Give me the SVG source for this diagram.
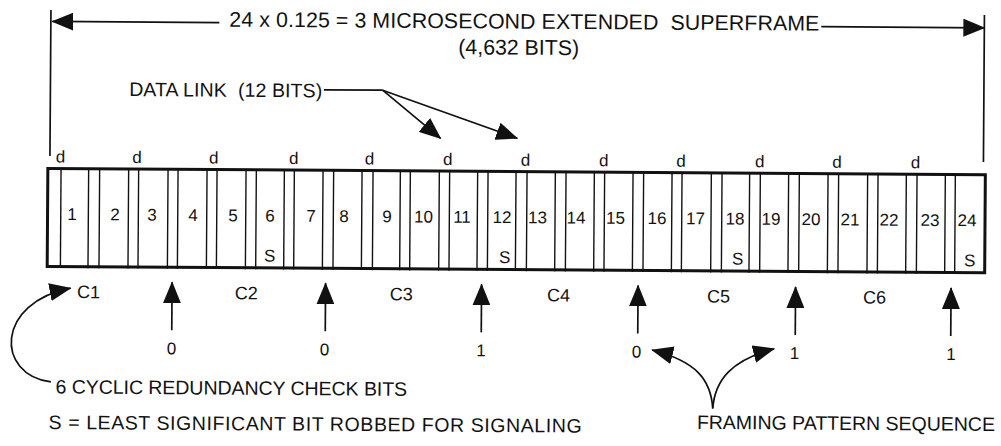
<svg xmlns="http://www.w3.org/2000/svg" width="1001" height="446" viewBox="0 0 1001 446">
<style>
text{font-family:"Liberation Sans",Arial,Helvetica,sans-serif;fill:#111}
.big{font-size:21.3px}
.lab{font-size:19.5px}
.num{font-size:17px;text-anchor:middle}
.c{font-size:18px;text-anchor:middle}
.ln{stroke:#111;stroke-width:1.4;fill:none}
.cn{stroke:#111;stroke-width:1.7;fill:none}
.ar{stroke:#111;stroke-width:1.7;fill:none;marker-end:url(#ah)}
</style>
<defs>
<marker id="ah" markerUnits="userSpaceOnUse" markerWidth="22" markerHeight="18" viewBox="0 0 22 18" refX="21" refY="9" orient="auto">
<path d="M0,0 L22,9 L0,18 z" fill="#111"/>
</marker>
</defs>
<rect width="1001" height="446" fill="#fff"/>
<g transform="rotate(0.39 500 223)">
<g id="title">
<text class="big" x="228" y="28.5" textLength="590" xml:space="preserve">24 x 0.125 = 3 MICROSECOND EXTENDED  SUPERFRAME</text>
<text class="big" x="517.5" y="54.5" text-anchor="middle">(4,632 BITS)</text>
</g>
<g id="datalink-label">
<text class="lab" x="128.3" y="98.6" textLength="193" xml:space="preserve">DATA LINK  (12 BITS)</text>
</g>
<g id="dbits">
<text class="num" x="60" y="165.5">d</text>
<text class="num" x="136.7" y="165.5">d</text>
<text class="num" x="213.3" y="165.5">d</text>
<text class="num" x="293.3" y="165.5">d</text>
<text class="num" x="369" y="165.5">d</text>
<text class="num" x="447.3" y="165.5">d</text>
<text class="num" x="525" y="165.5">d</text>
<text class="num" x="603.3" y="165.5">d</text>
<text class="num" x="680.5" y="165.5">d</text>
<text class="num" x="759.3" y="165.5">d</text>
<text class="num" x="836.7" y="165.5">d</text>
<text class="num" x="915" y="165.5">d</text>
</g>
<g id="superframe">
<rect x="47.5" y="171.5" width="937.5" height="98" fill="none" stroke="#111" stroke-width="3"/>
<g id="frame-1"><path class="ln" d="M60.7 171.5V271"/><text class="num" x="72" y="223">1</text></g>
<g id="frame-2"><path class="ln" d="M88.3 171.5V271M99.3 171.5V271"/><text class="num" x="115" y="223">2</text></g>
<g id="frame-3"><path class="ln" d="M128.3 171.5V271M138.3 171.5V271"/><text class="num" x="152" y="223">3</text></g>
<g id="frame-4"><path class="ln" d="M167.7 171.5V271M177.7 171.5V271"/><text class="num" x="193" y="223">4</text></g>
<g id="frame-5"><path class="ln" d="M206.7 171.5V271M216.7 171.5V271"/><text class="num" x="233" y="223">5</text></g>
<g id="frame-6"><path class="ln" d="M245.7 171.5V271M256 171.5V271"/><text class="num" x="270" y="223">6</text><text class="num" x="270" y="263">S</text></g>
<g id="frame-7"><path class="ln" d="M284 171.5V271M294 171.5V271"/><text class="num" x="311" y="223">7</text></g>
<g id="frame-8"><path class="ln" d="M322.7 171.5V271M333.3 171.5V271"/><text class="num" x="344" y="223">8</text></g>
<g id="frame-9"><path class="ln" d="M361.7 171.5V271M372.7 171.5V271"/><text class="num" x="387" y="223">9</text></g>
<g id="frame-10"><path class="ln" d="M400 171.5V271M410 171.5V271"/><text class="num" x="423.5" y="223">10</text></g>
<g id="frame-11"><path class="ln" d="M439 171.5V271M449.3 171.5V271"/><text class="num" x="462" y="223">11</text></g>
<g id="frame-12"><path class="ln" d="M477.3 171.5V271M487.7 171.5V271"/><text class="num" x="502" y="223">12</text><text class="num" x="505" y="263">S</text></g>
<g id="frame-13"><path class="ln" d="M515.7 171.5V271M526.7 171.5V271"/><text class="num" x="537.5" y="223">13</text></g>
<g id="frame-14"><path class="ln" d="M555 171.5V271M565.7 171.5V271"/><text class="num" x="576" y="223">14</text></g>
<g id="frame-15"><path class="ln" d="M594 171.5V271M604.3 171.5V271"/><text class="num" x="615.5" y="223">15</text></g>
<g id="frame-16"><path class="ln" d="M632.7 171.5V271M643.3 171.5V271"/><text class="num" x="657" y="223">16</text></g>
<g id="frame-17"><path class="ln" d="M671.7 171.5V271M681.7 171.5V271"/><text class="num" x="695.5" y="223">17</text></g>
<g id="frame-18"><path class="ln" d="M711 171.5V271M721.7 171.5V271"/><text class="num" x="735" y="223">18</text><text class="num" x="738" y="263">S</text></g>
<g id="frame-19"><path class="ln" d="M749.3 171.5V271M760 171.5V271"/><text class="num" x="771" y="223">19</text></g>
<g id="frame-20"><path class="ln" d="M788.3 171.5V271M799 171.5V271"/><text class="num" x="811" y="223">20</text></g>
<g id="frame-21"><path class="ln" d="M827.7 171.5V271M838.3 171.5V271"/><text class="num" x="850" y="223">21</text></g>
<g id="frame-22"><path class="ln" d="M867.3 171.5V271M877.7 171.5V271"/><text class="num" x="889" y="223">22</text></g>
<g id="frame-23"><path class="ln" d="M906 171.5V271M916.7 171.5V271"/><text class="num" x="930" y="223">23</text></g>
<g id="frame-24"><path class="ln" d="M945 171.5V271M955 171.5V271"/><text class="num" x="967" y="223">24</text><text class="num" x="970" y="263">S</text></g>
</g>
<g id="crc-labels">
<text class="c" x="89" y="301">C1</text>
<text class="c" x="246.7" y="301">C2</text>
<text class="c" x="401.7" y="301">C3</text>
<text class="c" x="559" y="301">C4</text>
<text class="c" x="719" y="301">C5</text>
<text class="c" x="875" y="301">C6</text>
</g>
<g id="framing-bits">
<text class="num" x="172.5" y="356.5">0</text>
<text class="num" x="325.5" y="356.5">0</text>
<text class="num" x="482" y="356.5">1</text>
<text class="num" x="637.5" y="356.5">0</text>
<text class="num" x="795.5" y="357">1</text>
<text class="num" x="952" y="357">1</text>
</g>
<g id="crc-note">
<text class="lab" x="56.7" y="396.5" textLength="351.6">6 CYCLIC REDUNDANCY CHECK BITS</text>
</g>
<g id="s-note">
<text class="lab" x="50" y="432" textLength="533">S = LEAST SIGNIFICANT BIT ROBBED FOR SIGNALING</text>
</g>
<g id="fps-note">
<text class="lab" x="698.3" y="427.6" textLength="298">FRAMING PATTERN SEQUENCE</text>
</g>
<g id="connectors">
<path class="cn" d="M49.5 13V159M983 11.7V158.7"/>
<path class="ar" d="M218 24.5H51"/>
<path class="ar" d="M820 24.5H983"/>
<path class="cn" d="M323 91H381.7"/>
<path class="ar" d="M381.7 91L440 138.7"/>
<path class="ar" d="M381.7 91L516.7 138.2"/>
<path class="ar" d="M172.5 332.5V284.5"/>
<path class="ar" d="M326 332.5V284.5"/>
<path class="ar" d="M482 332.5V284.5"/>
<path class="ar" d="M638.5 332.5V284.5"/>
<path class="ar" d="M796 333V285"/>
<path class="ar" d="M951.5 333V285"/>
<path class="ar" d="M52 385C-4 378 -4 306 71 291"/>
<path class="ar" d="M714 407C712 378 697 360 653 349"/>
<path class="ar" d="M714 407C716 378 733 358 775 347"/>
</g>
</g>
</svg>
